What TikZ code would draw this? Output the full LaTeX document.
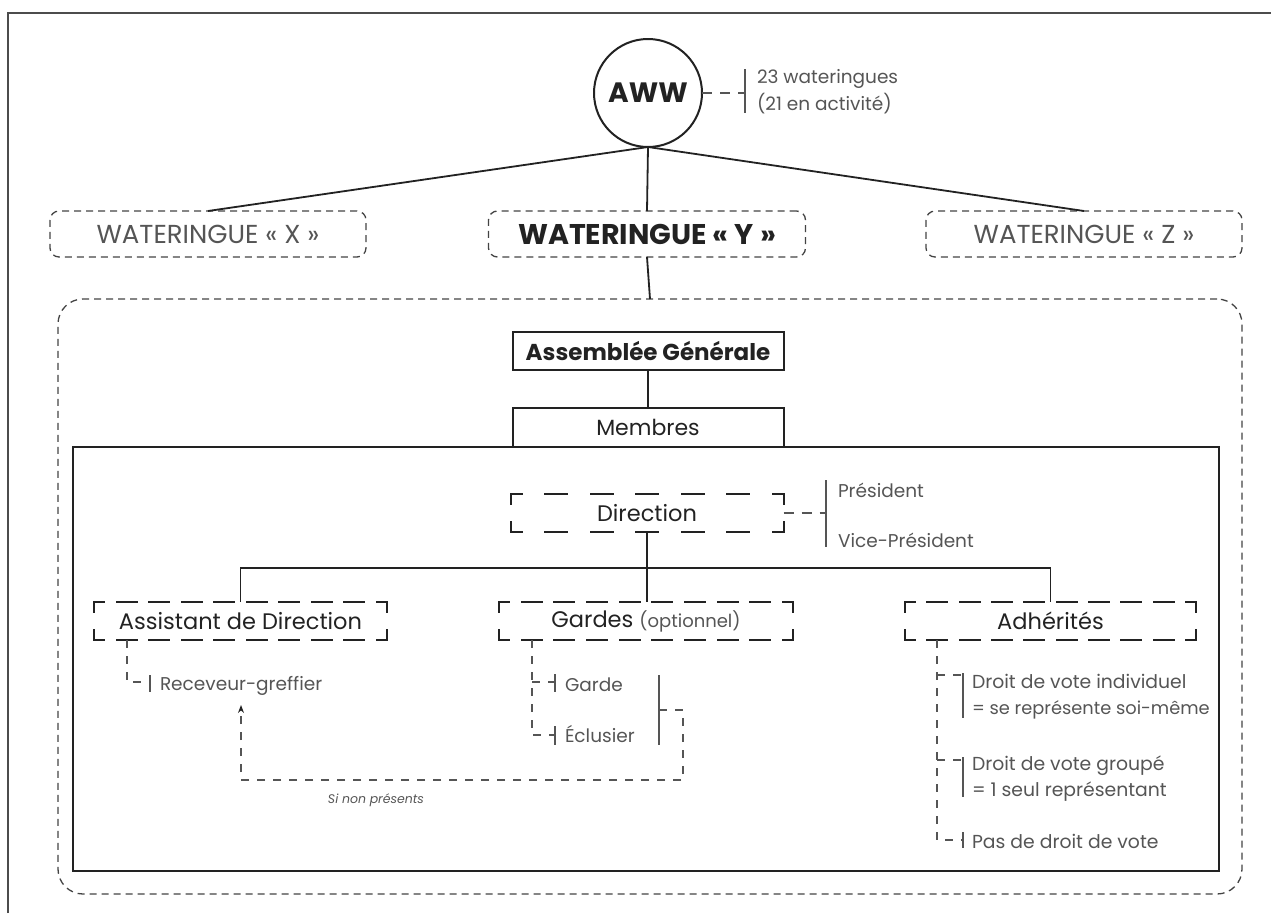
\documentclass[tikz,border=0pt]{standalone}
\usepackage{fontspec}
\setmainfont{Poppins}
\usetikzlibrary{arrows.meta}
\newcommand\fsz[1]{\fontsize{#1pt}{#1pt}\selectfont}
\definecolor{ink}{HTML}{222222}
\definecolor{lite}{HTML}{555555}
% dashed box outline: node, horizontal on, horizontal off
\newcommand\dbox[3]{%
 \pgfmathsetmacro\dph{#2/2}%
 \draw[dline, dash pattern=on #2pt off #3pt, dash phase=\dph pt] (#1.north west) -- (#1.north east);
 \draw[dline, dash pattern=on #2pt off #3pt, dash phase=\dph pt] (#1.south west) -- (#1.south east);
 \draw[dline, dash pattern=on 20pt off 18pt, dash phase=10pt] (#1.north west) -- (#1.south west);
 \draw[dline, dash pattern=on 20pt off 18pt, dash phase=10pt] (#1.north east) -- (#1.south east);
}
\begin{document}
\begin{tikzpicture}[x=1pt,y=-1pt,
 every node/.style={inner sep=0pt, outer sep=0pt},
 wbox/.style={draw=ink!85, line width=1.3pt, dash pattern=on 7pt off 5pt, rounded corners=9pt, minimum height=46pt},
 sbox/.style={draw=ink, line width=2pt, minimum width=271pt},
 lbox/.style={minimum height=38pt, font=\fsz{22.5}, text=ink},
 dline/.style={draw=ink, line width=2pt, line cap=rect},
 conn/.style={draw=ink, line width=1.8pt},
 tconn/.style={draw=ink, line width=1.5pt},
 tdash/.style={draw=lite, line width=1.2pt, dash pattern=on 8pt off 8pt},
 idash/.style={draw=lite, line width=1.2pt, dash pattern=on 10pt off 8pt},
 bar/.style={draw=lite, line width=1.2pt},
 lt/.style={text=lite, font=\fsz{18.5}, anchor=base west},
 lt2/.style={text=lite, font=\fsz{18.8}, anchor=base west},
]
\useasboundingbox (0,0) rectangle (1271,913);
% outer frame
\draw[line width=2pt, draw=black!70] (8,913) -- (8,13) -- (1271,13);

% AWW
\node[circle, draw=ink, line width=2pt, minimum size=108pt, font=\fsz{28}\bfseries, text=ink] (aww) at (648,93) {AWW};
\coordinate (awwb) at (745,93);
\coordinate (awwb1) at (745,69);
\coordinate (awwb2) at (745,113);
\draw[idash] (aww.east) -- (awwb);
\draw[bar] (awwb1) -- (awwb2);
\node[lt] (n23) at (757,83) {23 wateringues};
\node[lt] (n21) at (757,110) {(21 en activité)};

% wateringues
\node[wbox, minimum width=316pt, font=\fsz{26}, text=lite] (wx) at (208,234) {WATERINGUE « X »};
\node[wbox, minimum width=317pt, font=\fsz{28.5}\bfseries, text=ink] (wy) at (647,234) {WATERINGUE « Y »};
\node[wbox, minimum width=316pt, font=\fsz{26}, text=lite] (wz) at (1084,234) {WATERINGUE « Z »};
\draw[conn] (aww.south) -- (wx.north);
\draw[conn] (aww.south) -- (wy.north);
\draw[conn] (aww.south) -- (wz.north);

% group
\node[draw=ink!85, line width=1.3pt, dash pattern=on 7pt off 5pt, rounded corners=25pt, minimum width=1184pt, minimum height=595pt] (grp) at (650,596.5) {};
\draw[conn] (wy.south) -- (grp.north);

\node[draw=ink, line width=2pt, minimum width=1146pt, minimum height=424pt] (mainr) at (646,659) {};
\node[sbox, minimum height=38pt, font=\fsz{23}\bfseries, text=ink] (ag) at (648,351) {Assemblée Générale};
\node[sbox, minimum height=39pt, font=\fsz{22}, text=ink, fill=white] (mem) at (648,427) {Membres};
\draw[conn] (ag.south) -- (mem.north);

% direction
\node[lbox, minimum width=273pt] (dir) at (647,513) {Direction};
\dbox{dir}{22}{23.5}
\coordinate (dirb) at (826,513);
\coordinate (dirb1) at (826,480);
\coordinate (dirb2) at (826,547);
\draw[idash] (dir.east) -- (dirb);
\draw[bar] (dirb1) -- (dirb2);
\node[lt] (pres) at (838,497) {Président};
\node[lt] (vpres) at (838,547) {Vice-Président};

% second level
\node[lbox, minimum width=293pt] (asst) at (240.5,621) {Assistant de Direction};
\node[lbox, minimum width=294pt] (gar) at (646,621) {Gardes {\fsz{18}\color{lite}(optionnel)}};
\node[lbox, minimum width=291pt] (adh) at (1050.5,621) {Adhérités};
\dbox{asst}{20}{12.56}
\dbox{gar}{20}{12.67}
\dbox{adh}{20}{12.33}
\coordinate (j) at (647,568);
\draw[tconn] (dir.south) -- (dir.south |- gar.north);
\draw[tconn] (asst.north) -- (asst.north |- j) -- (adh.north |- j) -- (adh.north);

% receveur
\coordinate (t1) at (127,640);
\coordinate (b1) at (150,682);
\coordinate (b1a) at (150,675);
\coordinate (b1b) at (150,692);
\draw[tdash] (t1) |- (b1);
\draw[bar] (b1a) -- (b1b);
\node[lt] (rec) at (160,690) {Receveur-greffier};

% gardes
\coordinate (t2) at (532,640);
\coordinate (g1) at (532,682);
\coordinate (b2) at (555,682);
\coordinate (b3) at (555,735);
\draw[tdash] (t2) |- (b3);
\draw[tdash] (g1) -- (b2);
\draw[bar] (555,674) -- (555,692);
\draw[bar] (555,726) -- (555,745);
\node[lt] (garde) at (565,691) {Garde};
\node[lt] (eclu) at (565,742) {Éclusier};
\coordinate (br1) at (659,675);
\coordinate (br2) at (659,745);
\coordinate (brm) at (659,710);
\coordinate (lp) at (683,780);
\coordinate (arr) at (241,705);
\draw[bar] (br1) -- (br2);
\draw[tdash, -{Stealth[length=8pt,width=6pt,color=ink]}] (brm) -| (lp) -| (arr);
\node[font=\fsz{12.5}\itshape, text=lite] (snp) at (376,800) {Si non présents};

% adherites
\coordinate (t3) at (937,640);
\coordinate (a1) at (937,675);
\coordinate (a2) at (937,760);
\coordinate (c1) at (963,675);
\coordinate (c2) at (963,760);
\coordinate (c3) at (963,840);
\draw[tdash] (t3) |- (c3);
\draw[tdash] (a1) -- (c1);
\draw[tdash] (a2) -- (c2);
\draw[bar] (963,673) -- (963,718);
\draw[bar] (963,757) -- (963,797);
\draw[bar] (963,832) -- (963,848);
\node[lt2] (d1) at (972,688) {Droit de vote individuel};
\node[lt2, font=\fsz{17.8}] (d2) at (972,714) {= se représente soi-même};
\node[lt2] (d3) at (972,770) {Droit de vote groupé};
\node[lt2] (d4) at (972,796) {= 1 seul représentant};
\node[lt2] (d5) at (972,848) {Pas de droit de vote};
\end{tikzpicture}
\end{document}
